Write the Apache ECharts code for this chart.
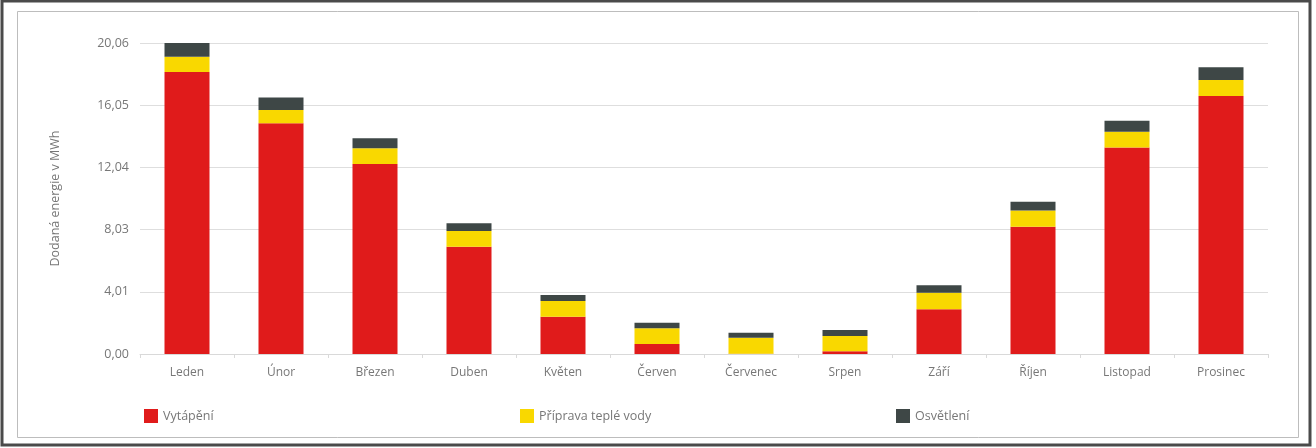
<!DOCTYPE html>
<html>
<head>
<meta charset="utf-8">
<script src="https://cdn.jsdelivr.net/npm/echarts@6/dist/echarts.min.js"></script>
<style>
html,body{margin:0;padding:0;background:#fff;}
#c{width:1316px;height:448px;}
</style>
</head>
<body>
<div id="c"></div>
<script>
const categories = ['Leden','Únor','Březen','Duben','Květen','Červen','Červenec','Srpen','Září','Říjen','Listopad','Prosinec'];
const vytapeni = [18.19, 14.88, 12.26, 6.92, 2.41, 0.65, 0.02, 0.17, 2.88, 8.21, 13.33, 16.65];
const pripravaVody = [0.99, 0.86, 1.01, 1.02, 1.01, 1.01, 1.03, 0.99, 1.07, 1.04, 1.01, 1.03];
const osvetleni = [0.88, 0.80, 0.65, 0.49, 0.39, 0.36, 0.32, 0.39, 0.48, 0.58, 0.71, 0.82];
const seriesNames = ['Vytápění', 'Příprava teplé vody', 'Osvětlení'];
const yMax = 20.064;
const yTickStep = 4.0128;
const yAxisTitle = 'Dodaná energie v MWh';

const colors = ['#E01B1B', '#F9D800', '#3E4746'];
const font = '"Open Sans", "Noto Sans", sans-serif';
const textColor = '#777777';

const chart = echarts.init(document.getElementById('c'), null, {renderer: 'canvas'});
const legendStyle = (left, i) => ({
  data: [seriesNames[i]],
  left: left, top: 404,
  itemWidth: 14, itemHeight: 14, icon: 'rect',
  textStyle: {color: textColor, fontSize: 12.5, fontFamily: font},
  itemGap: 0
});
chart.setOption({
  animation: false,
  backgroundColor: '#fff',
  color: colors,
  graphic: [
    {type: 'rect', shape: {x: 2, y: 1, width: 1308, height: 444}, style: {fill: 'none', stroke: '#4a4a4a', lineWidth: 3}, silent: true, z: -10},
    {type: 'rect', shape: {x: 17.5, y: 11.5, width: 1281, height: 426}, style: {fill: 'none', stroke: '#bdbdbd', lineWidth: 1}, silent: true, z: -10}
  ],
  legend: [legendStyle(139, 0), legendStyle(515, 1), legendStyle(891, 2)],
  grid: {left: 140, right: 48, top: 43, bottom: 94, containLabel: false},
  xAxis: {
    type: 'category',
    data: categories,
    axisLine: {lineStyle: {color: '#d9d9d9'}},
    axisTick: {show: true, length: 4, lineStyle: {color: '#d9d9d9'}},
    axisLabel: {color: textColor, fontSize: 12, fontFamily: font, margin: 13}
  },
  yAxis: {
    type: 'value',
    min: 0, max: yMax, interval: yTickStep,
    name: yAxisTitle,
    nameLocation: 'middle',
    nameGap: 78,
    nameTextStyle: {color: textColor, fontSize: 12.5, fontFamily: font},
    axisLine: {show: false},
    axisTick: {show: false},
    splitLine: {lineStyle: {color: '#dedede'}},
    axisLabel: {
      color: textColor, fontSize: 12.5, fontFamily: font, margin: 11,
      formatter: v => v.toFixed(2).replace('.', ',')
    }
  },
  series: [
    {name: seriesNames[0], type: 'bar', stack: 'e', data: vytapeni, barWidth: 45},
    {name: seriesNames[1], type: 'bar', stack: 'e', data: pripravaVody, barWidth: 45},
    {name: seriesNames[2], type: 'bar', stack: 'e', data: osvetleni, barWidth: 45}
  ]
});
</script>
</body>
</html>
